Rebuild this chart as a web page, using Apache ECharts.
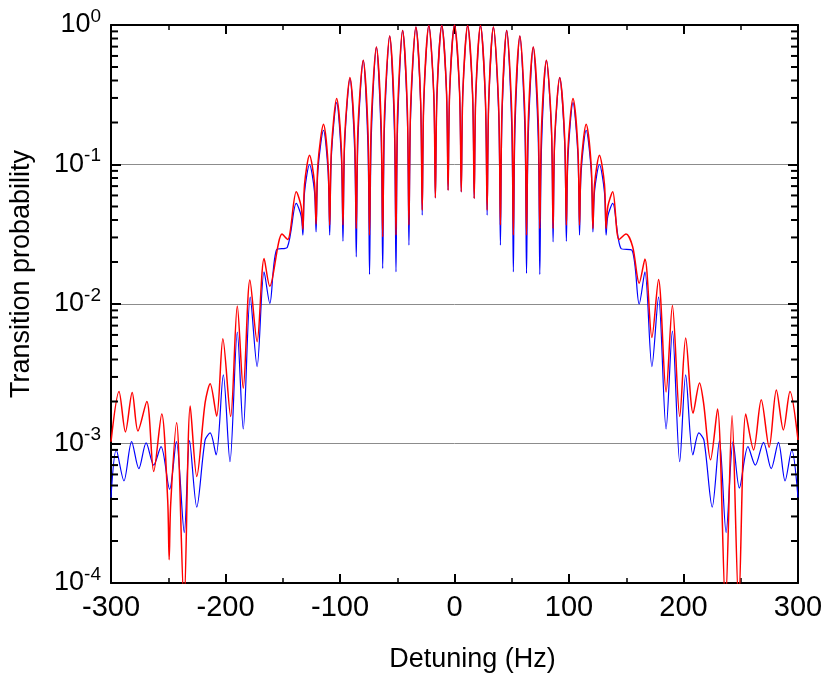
<!DOCTYPE html>
<html><head><meta charset="utf-8">
<script src="https://cdn.jsdelivr.net/npm/echarts@6/dist/echarts.min.js"></script>
<style>html,body{margin:0;padding:0;background:#fff}#c{width:830px;height:684px}</style>
</head><body><div id="c"></div>
<script>
// Theory (blue) curve: detuning (Hz) and transition probability
const theoryHz = [-300.0,-295.4,-288.7,-282.0,-275.7,-269.3,-262.7,-256.3,-248.8,-242.9,
  -236.0,-231.4,-225.1,-217.8,-213.4,-208.2,-201.9,-196.1,-189.7,-184.5,
  -178.4,-172.4,-166.3,-161.3,-155.6,-146.0,
  -138.2,-133.9,-132.4,-131.0, -126.6,-122.3,-120.9,-119.3, -114.4,-110.4,-109.0,-107.5,
  -102.9,-98.8,-97.4,-95.9, -91.3,-87.2,-85.8,-84.3, -79.7,-75.6,-74.2,-72.7,
  -68.2,-64.1,-62.7,-61.2, -56.6,-52.5,-51.1,-49.7, -45.3,-41.2,-39.8,-38.3,
  -33.7,-29.6,-28.2,-26.8, -22.4,-18.1,-16.7,-15.3, -11.1,-7.0,-5.6,-4.2,
  0,4.4,5.9,7.3, 11.5,15.8,17.2,18.6, 22.7,27.0,28.5,29.9,
  34.0,38.6,40.1,41.5, 45.6,50.0,51.4,52.8, 57.1,61.5,62.9,64.4,
  68.8,73.1,74.5,76.0, 80.3,84.7,86.1,87.5, 91.9,96.2,97.7,99.1,
  103.5,107.8,109.2,110.6, 115.0,119.4,120.9,122.3, 126.6,131.0,132.4,133.9,
  138.2,145.4,155.0,161.3,166.3,172.4,
  178.2,184.8,190.3,196.7,201.9,208.2,213.4,217.8,225.1,231.4,
  237.2,243.3,248.8,256.3,262.7,269.9,276.6,282.9,288.7,294.5,300.0];
const theoryP = [4.1e-4,9.0e-4,5.4e-4,1.03e-3,6.6e-4,1.01e-3,7.0e-4,9.5e-4,4.7e-4,1.03e-3,
  2.3e-4,1.05e-3,3.5e-4,1.06e-3,1.19e-3,8.3e-4,3.1e-3,7.4e-4,6.3e-3,1.27e-3,
  1.12e-2,3.56e-3,1.70e-2,1.01e-2,2.43e-2,2.55e-2,
  5.26e-2,4.27e-2,3.12e-2,6.28e-2, 0.100,6.41e-2,3.29e-2,9.0e-2, 0.176,8.81e-2,3.12e-2,0.116,
  0.278,0.111,2.82e-2,0.141, 0.413,0.127,2.18e-2,0.152, 0.558,0.136,1.63e-2,0.155,
  0.695,0.161,1.80e-2,0.180, 0.833,0.176,1.70e-2,0.186, 0.915,0.221,2.64e-2,0.229,
  0.966,0.279,4.34e-2,0.284, 0.993,0.318,5.77e-2,0.318, 0.993,0.335,6.55e-2,0.336,
  1.0,0.332,6.37e-2,0.331, 0.993,0.317,5.71e-2,0.317, 0.993,0.284,4.34e-2,0.279,
  0.966,0.229,2.64e-2,0.221, 0.915,0.186,1.70e-2,0.176, 0.833,0.174,1.66e-2,0.156,
  0.695,0.155,1.63e-2,0.136, 0.558,0.169,2.79e-2,0.142, 0.420,0.143,2.82e-2,0.111,
  0.278,0.116,3.12e-2,8.81e-2, 0.176,9.0e-2,3.29e-2,6.41e-2, 0.100,6.28e-2,3.12e-2,4.27e-2,
  5.26e-2,2.50e-2,2.43e-2,1.00e-2,1.70e-2,3.56e-3,
  1.12e-2,1.27e-3,6.4e-3,7.4e-4,3.1e-3,8.3e-4,1.19e-3,1.06e-3,3.5e-4,1.05e-3,
  2.3e-4,1.03e-3,4.8e-4,9.5e-4,7.0e-4,1.02e-3,6.6e-4,1.02e-3,5.4e-4,9.0e-4,4.1e-4];

// Measured (red) curve
const measHz = [-300.0,-293.0,-287.4,-281.5,-276.5,-268.7,-262.7,-255.7,-250.5,-249.2,
  -247.9,-242.7,-236.2,-230.8,-225.1,-217.8,-213.4,-207.7,-202.3,-195.5,
  -189.7,-184.5,-178.7,-172.4,-166.3,-161.3,-150.6,-145.7,
  -138.2,-133.9,-132.4,-131.0, -126.6,-122.3,-120.9,-119.3, -114.4,-110.4,-109.0,-107.5,
  -102.9,-98.8,-97.4,-95.9, -91.3,-87.2,-85.8,-84.3, -79.7,-75.6,-74.2,-72.7,
  -68.2,-64.1,-62.7,-61.2, -56.6,-52.5,-51.1,-49.7, -45.3,-41.2,-39.8,-38.3,
  -33.7,-29.6,-28.2,-26.8, -22.4,-18.1,-16.7,-15.3, -11.1,-7.0,-5.6,-4.2,
  0,4.4,5.9,7.3, 11.5,15.8,17.2,18.6, 22.7,27.0,28.5,29.9,
  34.0,38.6,40.1,41.5, 45.6,50.0,51.4,52.8, 57.1,61.5,62.9,64.4,
  68.8,73.1,74.5,76.0, 80.3,84.7,86.1,87.5, 91.9,96.2,97.7,99.1,
  103.5,107.8,109.2,110.6, 115.0,119.4,120.9,122.3, 126.6,131.0,132.4,133.9,
  138.2,143.7,149.8,155.6,
  161.3,166.3,172.4,178.2,184.8,190.3,196.7,201.9,208.4,214.0,
  217.5,223.6,229.7,236.6,242.4,248.2,254.4,261.2,267.9,274.8,
  281.1,287.2,293.0,300.0];
const measP = [1.03e-3,2.36e-3,1.21e-3,2.32e-3,1.23e-3,2.00e-3,6.3e-4,1.63e-3,3.95e-4,1.47e-4,
  3.64e-4,1.41e-3,7e-5,1.86e-3,5.8e-4,1.96e-3,2.68e-3,1.57e-3,5.63e-3,1.56e-3,
  9.67e-3,2.49e-3,1.485e-2,5.37e-3,2.12e-2,1.34e-2,3.17e-2,2.90e-2,
  6.37e-2,4.98e-2,3.44e-2,7.16e-2, 0.1166,7.40e-2,3.74e-2,0.1005, 0.194,9.98e-2,3.68e-2,0.129,
  0.297,0.129,3.68e-2,0.158, 0.420,0.155,3.48e-2,0.184, 0.558,0.176,3.12e-2,0.201,
  0.695,0.199,3.03e-2,0.221, 0.833,0.224,3.12e-2,0.237, 0.915,0.253,3.68e-2,0.261,
  0.966,0.288,4.71e-2,0.293, 0.993,0.318,5.77e-2,0.318, 0.993,0.335,6.55e-2,0.336,
  1.0,0.332,6.37e-2,0.331, 0.993,0.317,5.71e-2,0.317, 0.993,0.293,4.71e-2,0.288,
  0.966,0.261,3.68e-2,0.253, 0.915,0.237,3.12e-2,0.224, 0.833,0.224,3.12e-2,0.201,
  0.695,0.210,3.48e-2,0.184, 0.558,0.184,3.48e-2,0.155, 0.420,0.158,3.68e-2,0.129,
  0.297,0.129,3.68e-2,9.98e-2, 0.194,9.77e-2,3.48e-2,7.19e-2, 0.1166,7.19e-2,3.48e-2,5.00e-2,
  6.37e-2,2.90e-2,3.17e-2,2.57e-2,
  1.41e-2,2.10e-2,5.76e-3,1.50e-2,2.34e-3,9.76e-3,1.56e-3,5.71e-3,1.65e-3,2.71e-3,
  1.96e-3,7.64e-4,1.77e-3,7e-5,1.58e-3,7e-5,1.63e-3,9.0e-4,2.06e-3,9.39e-4,
  2.42e-3,1.25e-3,2.36e-3,1.06e-3];

// Axes
const xMin = -300, xMax = 300, xStep = 100;
const yMin = 1e-4, yMax = 1;
const yMinorMultipliers = [2,3,4,5,6,7,8,9];

const zip = (xs, ys) => xs.map((x, i) => [x, ys[i]]);
const minorTickData = [];
for (let e = Math.round(Math.log10(yMin)); e < Math.round(Math.log10(yMax)); e++) {
  for (const m of yMinorMultipliers) {
    const v = m * Math.pow(10, e);
    minorTickData.push([xMin, v, 1]);
    minorTickData.push([xMax, v, -1]);
  }
}

const font = '"Liberation Sans", Arial, sans-serif';
const axisLineStyle = {color: '#000', width: 2};
const chart = echarts.init(document.getElementById('c'), null, {renderer: 'canvas'});
chart.setOption({
  animation: false,
  backgroundColor: '#fff',
  grid: {left: 107, right: 32, top: 25, bottom: 101, containLabel: false},
  xAxis: [{
    type: 'value', min: xMin, max: xMax, interval: xStep, position: 'bottom',
    axisLine: {onZero: false, lineStyle: axisLineStyle},
    axisTick: {inside: true, length: 9, lineStyle: {color: '#000', width: 2}},
    minorTick: {show: true, splitNumber: 2, length: 5, lineStyle: {color: '#000', width: 1.5}},
    axisLabel: {fontFamily: font, fontSize: 29, color: '#000', margin: 10},
    splitLine: {show: false},
    name: 'Detuning (Hz)', nameLocation: 'middle', nameGap: 63,
    nameTextStyle: {fontFamily: font, fontSize: 27, color: '#000', padding: [0, 0, 0, 36]}
  }, {
    type: 'value', min: xMin, max: xMax, interval: xStep, position: 'top',
    axisLine: {onZero: false, lineStyle: axisLineStyle},
    axisTick: {inside: true, length: 9, lineStyle: {color: '#000', width: 2}},
    minorTick: {show: true, splitNumber: 2, length: 5, lineStyle: {color: '#000', width: 1.5}},
    axisLabel: {show: false}, splitLine: {show: false}
  }],
  yAxis: [{
    type: 'log', logBase: 10, min: yMin, max: yMax, position: 'left',
    axisLine: {onZero: false, lineStyle: axisLineStyle},
    axisTick: {inside: true, length: 10, lineStyle: {color: '#000', width: 2}},
    axisLabel: {
      margin: 10,
      formatter: v => '{b|10}{s|' + Math.round(Math.log10(v)) + '}',
      rich: {
        b: {fontFamily: font, fontSize: 27, color: '#000', lineHeight: 36},
        s: {fontFamily: font, fontSize: 19, color: '#000', lineHeight: 20, verticalAlign: 'top'}
      }
    },
    splitLine: {show: true, lineStyle: {color: '#8c8c8c', width: 1}},
    name: 'Transition probability', nameLocation: 'middle', nameRotate: 90, nameGap: 76,
    nameTextStyle: {fontFamily: font, fontSize: 27, color: '#000', padding: [0, 0, 0, 60]}
  }, {
    type: 'log', logBase: 10, min: yMin, max: yMax, position: 'right',
    axisLine: {onZero: false, lineStyle: axisLineStyle},
    axisTick: {inside: true, length: 10, lineStyle: {color: '#000', width: 2}},
    axisLabel: {show: false}, splitLine: {show: false}
  }],
  series: [{
    name: 'theory', type: 'line', data: zip(theoryHz, theoryP),
    showSymbol: false, smooth: 0.3, clip: true,
    lineStyle: {color: '#0000ff', width: 1.2}, z: 2
  }, {
    name: 'measured', type: 'line', data: zip(measHz, measP),
    showSymbol: false, smooth: 0.3, clip: true,
    lineStyle: {color: '#ff0000', width: 1.5}, z: 3
  }, {
    name: 'minorTicks', type: 'custom', data: minorTickData, silent: true, clip: false, z: 5,
    renderItem: (params, api) => {
      const p = api.coord([api.value(0), api.value(1)]);
      const dir = api.value(2);
      return {type: 'line', shape: {x1: p[0], y1: p[1], x2: p[0] + dir * 7, y2: p[1]},
        style: {stroke: '#000', lineWidth: 2}};
    }
  }]
});
</script></body></html>
